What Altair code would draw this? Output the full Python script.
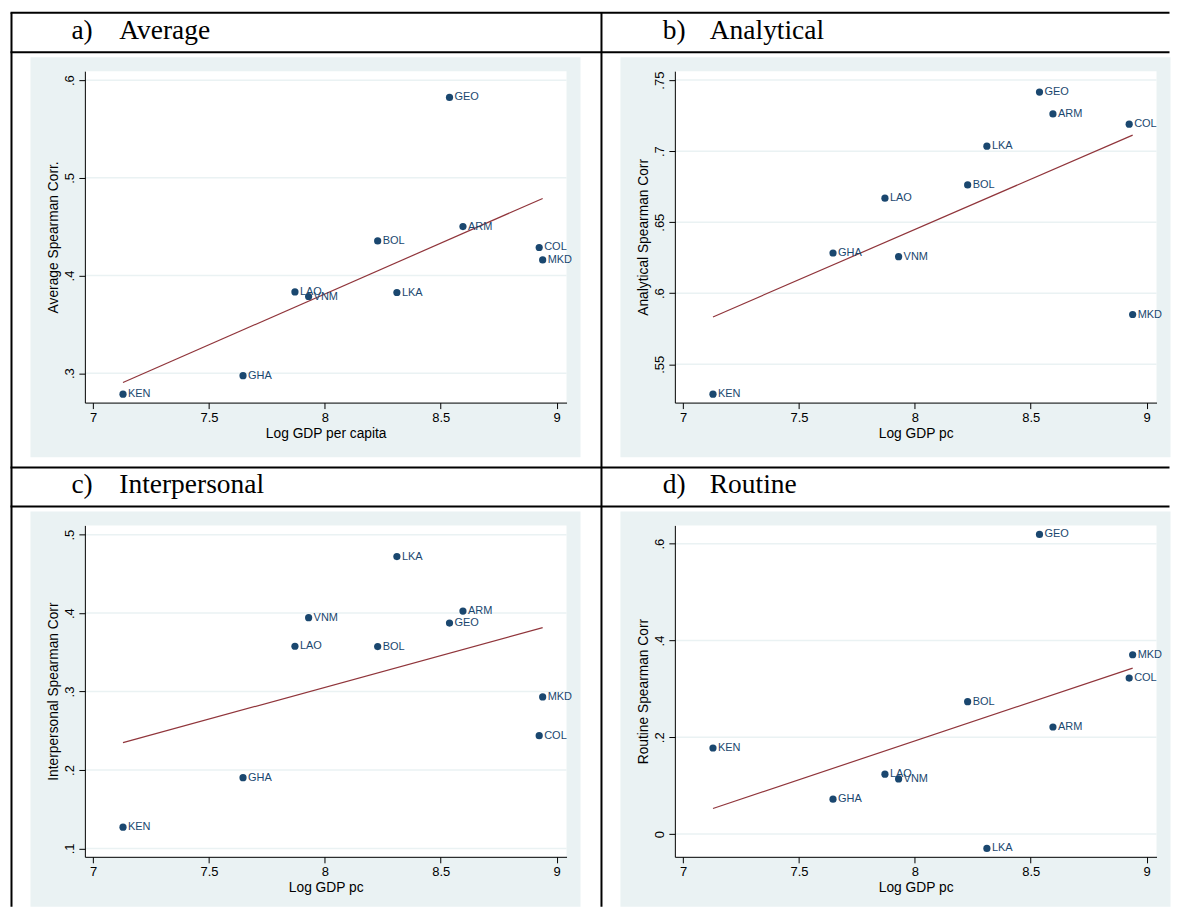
import altair as alt
import pandas as pd

# ---------------- data ----------------
countries = ["KEN", "GHA", "LAO", "VNM", "BOL", "LKA", "GEO", "ARM", "COL", "MKD"]
log_gdp = [7.129, 7.647, 7.871, 7.930, 8.228, 8.311, 8.538, 8.596, 8.925, 8.940]

avg_corr = [0.2785, 0.2975, 0.3832, 0.3785, 0.4354, 0.3826, 0.5823, 0.4501, 0.4287, 0.4160]
analytical_corr = [0.5289, 0.6283, 0.6669, 0.6257, 0.6762, 0.7035, 0.7416, 0.7262, 0.7190, 0.5850]
interpersonal_corr = [0.1271, 0.1902, 0.3577, 0.3941, 0.3573, 0.4720, 0.3873, 0.4025, 0.2437, 0.2931]
routine_corr = [0.1779, 0.0722, 0.1238, 0.1141, 0.2737, -0.0295, 0.6192, 0.2213, 0.3223, 0.3705]

fit_x = [7.129, 8.940]
avg_fit = [0.2904, 0.4789]
analytical_fit = [0.5833, 0.7113]
interpersonal_fit = [0.2348, 0.3814]
routine_fit = [0.0530, 0.3429]

x_ticks = [7, 7.5, 8, 8.5, 9]
avg_ticks = [0.3, 0.4, 0.5, 0.6]
analytical_ticks = [0.55, 0.6, 0.65, 0.7, 0.75]
interpersonal_ticks = [0.1, 0.2, 0.3, 0.4, 0.5]
routine_ticks = [0, 0.2, 0.4, 0.6]

# ---------------- style ----------------
NAVY = "#1A476F"
MAROON = "#90353B"
BG = "#EAF2F3"
SANS = "Liberation Sans"
SERIF = "Liberation Serif"
W = 482.5
H = 332
XDOM = [6.9645, 9.043]

panels = [
    dict(letter="a)", name="Average", ytitle="Average Spearman Corr.", xtitle="Log GDP per capita",
         y=avg_corr, fit=avg_fit, ticks=avg_ticks, ydom=[0.2699, 0.6092], top=True, tx=(-13.5, 34.5)),
    dict(letter="b)", name="Analytical", ytitle="Analytical Spearman Corr", xtitle="Log GDP pc",
         y=analytical_corr, fit=analytical_fit, ticks=analytical_ticks, ydom=[0.5230, 0.7563], top=True, tx=(-12, 35)),
    dict(letter="c)", name="Interpersonal", ytitle="Interpersonal Spearman Corr", xtitle="Log GDP pc",
         y=interpersonal_corr, fit=interpersonal_fit, ticks=interpersonal_ticks, ydom=[0.0893, 0.5118], top=False, tx=(-13.5, 34.5)),
    dict(letter="d)", name="Routine", ytitle="Routine Spearman Corr", xtitle="Log GDP pc",
         y=routine_corr, fit=routine_fit, ticks=routine_ticks, ydom=[-0.0469, 0.6378], top=False, tx=(-12, 35)),
]

dummy = alt.Data(values=[{"k": 1}])


def vrule(x1, y1, x2, y2):
    return alt.Chart(dummy).mark_rule(color="black", strokeWidth=2).encode(
        x=alt.value(x1), y=alt.value(y1), x2=alt.value(x2), y2=alt.value(y2))


def make_panel(p, first):
    df = pd.DataFrame({"country": countries, "x": log_gdp, "y": p["y"]})
    fit = pd.DataFrame({"x": fit_x, "y": p["fit"]})
    grid = pd.DataFrame({"y": p["ticks"]})

    x_axis = alt.Axis(values=x_ticks, format="~g", title=p["xtitle"], grid=False,
                      domainColor="black", domainWidth=1, tickColor="black", tickSize=6, tickWidth=1,
                      labelFont=SANS, labelFontSize=13, labelColor="black", labelPadding=3,
                      labelFlush=False, labelOverlap=False,
                      titleFont=SANS, titleFontSize=13.8, titleFontWeight="normal", titleColor="black",
                      titlePadding=2, zindex=1)
    y_axis = alt.Axis(values=p["ticks"], labelExpr="replace(format(datum.value, '~g'), '0.', '.')",
                      title=p["ytitle"], grid=False,
                      domainColor="black", domainWidth=1, tickColor="black", tickSize=6, tickWidth=1,
                      labelFont=SANS, labelFontSize=13, labelColor="black", labelPadding=2,
                      labelAngle=270, labelAlign="center", labelBaseline="bottom",
                      labelFlush=False, labelOverlap=False,
                      titleFont=SANS, titleFontSize=13.8, titleFontWeight="normal", titleColor="black",
                      titlePadding=3, zindex=1)
    X = alt.X("x:Q", scale=alt.Scale(domain=XDOM, nice=False, zero=False), axis=x_axis)
    Y = alt.Y("y:Q", scale=alt.Scale(domain=p["ydom"], nice=False, zero=False), axis=y_axis)

    bottom = 386.7 if p["top"] else 382
    bg = alt.Chart(dummy).mark_rect(color=BG).encode(
        x=alt.value(-54.5), x2=alt.value(496.5), y=alt.value(-14), y2=alt.value(bottom))
    white = alt.Chart(dummy).mark_rect(color="white").encode(
        x=alt.value(0), x2=alt.value(W), y=alt.value(0), y2=alt.value(H))
    gridl = alt.Chart(grid).mark_rule(color=BG, strokeWidth=1.5).encode(
        y=Y, x=alt.value(0), x2=alt.value(W))
    line = alt.Chart(fit).mark_line(color=MAROON, strokeWidth=1.2).encode(x=X, y=Y)
    pts = alt.Chart(df).mark_circle(size=52, color=NAVY, opacity=1).encode(x=X, y=Y)
    labs = alt.Chart(df).mark_text(align="left", baseline="middle", dx=5, color=NAVY,
                                   font=SANS, fontSize=11).encode(x=X, y=Y, text="country:N")
    ty = -32 if p["top"] else -32
    t1 = alt.Chart(dummy).mark_text(font=SERIF, fontSize=27.5, align="left", baseline="alphabetic",
                                    color="black").encode(x=alt.value(p["tx"][0]), y=alt.value(ty),
                                                          text=alt.value(p["letter"]))
    t2 = alt.Chart(dummy).mark_text(font=SERIF, fontSize=27.5, align="left", baseline="alphabetic",
                                    color="black").encode(x=alt.value(p["tx"][1]), y=alt.value(ty),
                                                          text=alt.value(p["name"]))
    layers = [bg, white, gridl, line, pts, labs, t1, t2]
    if first:
        layers += [
            vrule(-74.5, -58.5, 1086.5, -58.5),   # top border
            vrule(-73.5, -58.5, -73.5, 837),      # left border
            vrule(517.5, -58.5, 517.5, 837),      # middle divider
            vrule(-74.5, -19, 1086.5, -19),       # below first title row
            vrule(-74.5, 397, 1086.5, 397),       # above second title row
            vrule(-74.5, 436, 1086.5, 436),       # below second title row
        ]
    return alt.layer(*layers).properties(width=W, height=H)


charts = [make_panel(p, i == 0) for i, p in enumerate(panels)]

chart = alt.concat(*charts, columns=2, spacing={"row": 123, "column": 108}, bounds="flush").configure_view(
    stroke=None).properties(padding={"left": 1, "top": 2.5, "right": 0, "bottom": 0}, background="white")

chart.save("out.html", embed_options={"renderer": "svg", "actions": False})
